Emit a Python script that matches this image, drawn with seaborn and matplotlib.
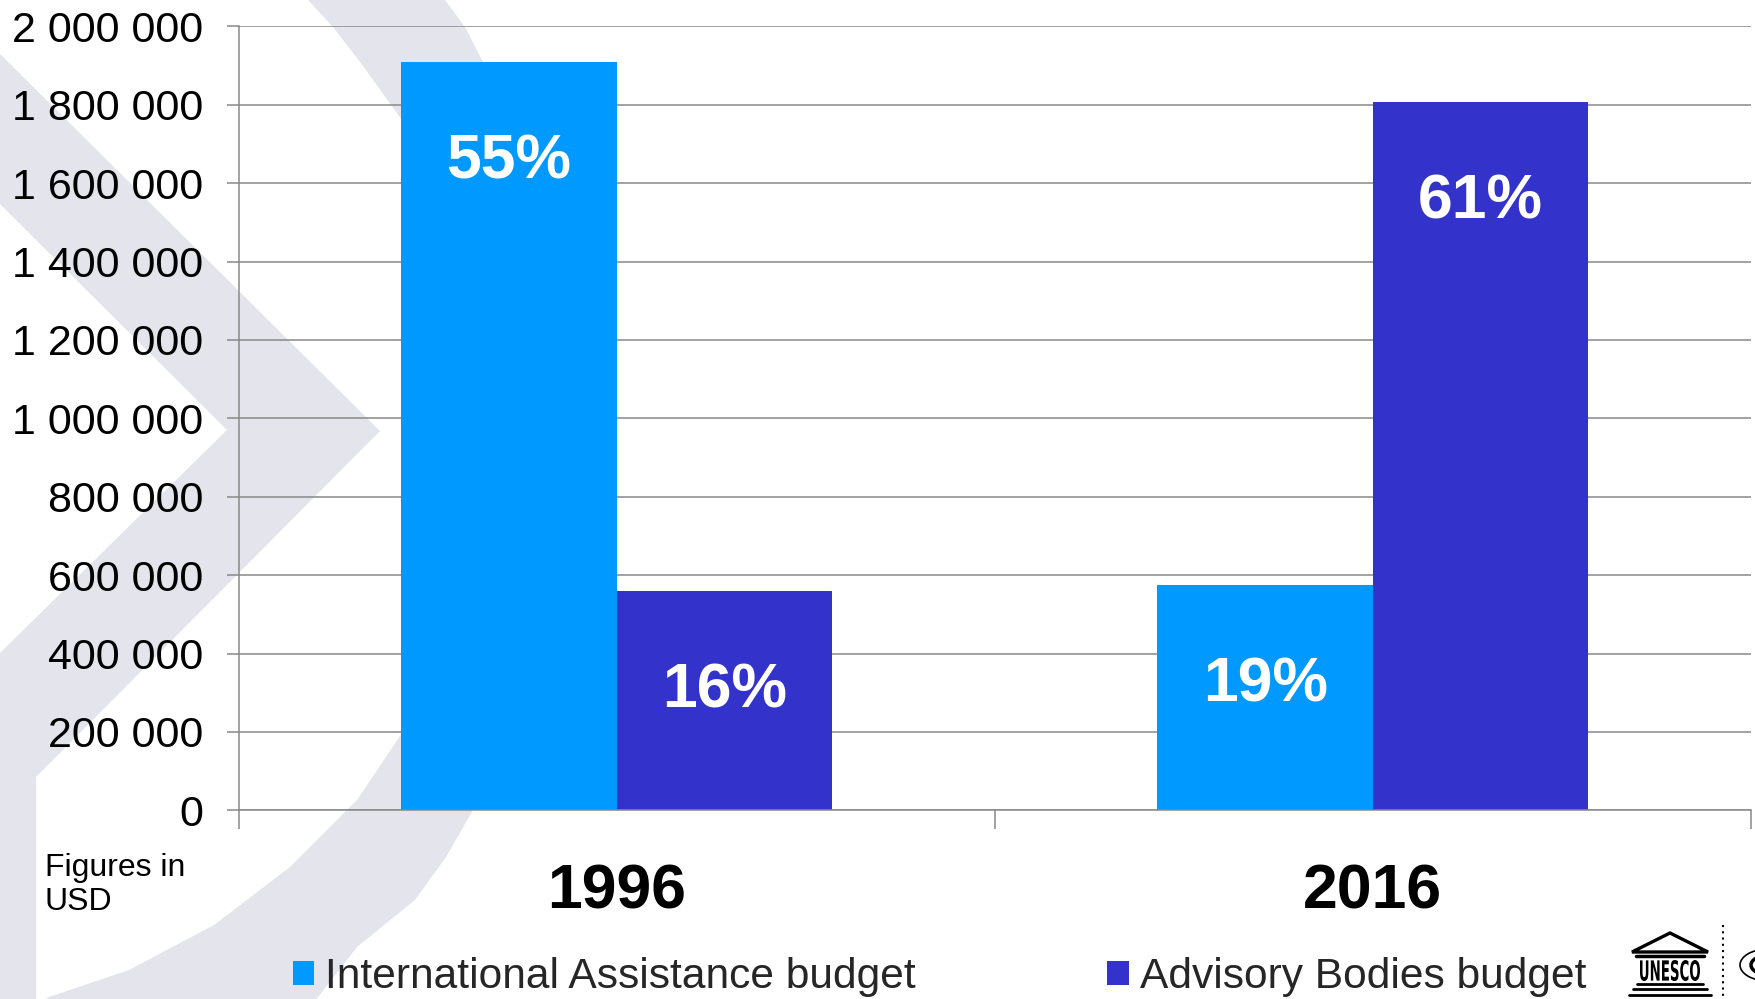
import numpy as np
import pandas as pd
import matplotlib
matplotlib.use("Agg")
import matplotlib.pyplot as plt
from matplotlib.patches import Polygon, Patch, Circle, PathPatch
from matplotlib.lines import Line2D
from matplotlib.textpath import TextPath
from matplotlib.font_manager import FontProperties
from matplotlib.transforms import Affine2D, IdentityTransform
import seaborn as sns

# ---- data ----
years = ["1996", "2016"]
series = ["International Assistance budget", "Advisory Bodies budget"]
ia_budget = [1908000, 574000]
ab_budget = [559000, 1806000]
ia_share = ["55%", "19%"]
ab_share = ["16%", "61%"]
colors = ["#0099FF", "#3333CC"]
y_ticks = list(range(0, 2000001, 200000))

sns.set_theme(style="white")
plt.rcParams["font.family"] = ["Liberation Sans", "DejaVu Sans"]

W, H = 1756, 999
fig = plt.figure(figsize=(W / 100, H / 100), dpi=100)
fig.patch.set_facecolor("white")


def fx(x):
    return x / W


def fy(y):
    return 1 - y / H


def poly(pts, **kw):
    p = Polygon([(fx(x), fy(y)) for x, y in pts], closed=True,
                transform=fig.transFigure, **kw)
    fig.add_artist(p)
    return p


# ---- decorative slide background ----
bg = "#E4E4EC"
poly([(-5, 50), (0, 54), (380, 431), (36, 777), (36, 1005), (-5, 1005),
      (-5, 653), (0, 653), (227, 430), (0, 204), (-5, 204)],
     facecolor=bg, edgecolor="none", zorder=-5)
left_edge = [(306, -5), (308, 0), (333, 27), (360, 62), (402, 120), (440, 250),
             (455, 430), (440, 600), (402, 733), (357, 800), (290, 867),
             (214, 925), (129, 970), (49, 997), (35, 1005)]
right_edge = [(312, 1005), (357, 947), (415, 900), (446, 857), (473, 810),
              (530, 650), (545, 430), (530, 250), (483, 62), (465, 27),
              (445, 0), (443, -5)]
poly(left_edge + right_edge, facecolor=bg, edgecolor="none", zorder=-5)

# ---- axes ----
ax = fig.add_axes([fx(238.6), fy(810.3), (1751 - 238.6) / W, (810.3 - 26.3) / H])
ax.set_facecolor("none")

df = pd.DataFrame({
    "year": years + years,
    "budget": ia_budget + ab_budget,
    "series": [series[0]] * len(years) + [series[1]] * len(years),
})
sns.barplot(data=df, x="year", y="budget", hue="series", hue_order=series,
            palette=colors, saturation=1, width=0.57, errorbar=None,
            edgecolor="none", linewidth=0, legend=False, ax=ax, zorder=3)

ax.set_xlim(-0.5, 1.5)
ax.set_ylim(0, 2000000)
ax.set_xlabel("")
ax.set_ylabel("")

gcol = "#898989"
ax.set_yticks(y_ticks)
ax.set_yticklabels([f"{v:,}".replace(",", " ") for v in y_ticks])
ax.yaxis.grid(True, color=gcol, linewidth=1.1)
ax.xaxis.grid(False)
ax.set_axisbelow(True)
for s in ["top", "right"]:
    ax.spines[s].set_visible(False)
for s in ["left", "bottom"]:
    ax.spines[s].set_visible(True)
    ax.spines[s].set_color(gcol)
    ax.spines[s].set_linewidth(1.1)
    ax.spines[s].set_zorder(4)

ax.tick_params(axis="y", which="major", left=True, length=8.4, width=1.1,
               color=gcol, pad=17, labelsize=31, labelcolor="black",
               direction="out")
ax.set_xticks([-0.5, 0.5, 1.5], minor=True)
ax.tick_params(axis="x", which="minor", bottom=True, length=13.7, width=1.1,
               color=gcol, direction="out")
ax.tick_params(axis="x", which="major", bottom=True, length=0, pad=37.5,
               labelsize=45, labelcolor="black")
for lbl in ax.get_xticklabels():
    lbl.set_fontweight("bold")

# percentage labels inside the bars
for container, shares in zip(ax.containers, [ia_share, ab_share]):
    for bar, s in zip(container, shares):
        ax.annotate(s, (bar.get_x() + bar.get_width() / 2, bar.get_height()),
                    xytext=(0, -72), textcoords="offset points",
                    ha="center", va="center", color="white",
                    fontsize=45, fontweight="bold", zorder=5)

# note
fig.text(fx(45), fy(853), "Figures in\nUSD", fontsize=23, ha="left", va="top",
         linespacing=1.17, color="black")

# legend
handles = [Patch(facecolor=c, edgecolor="none") for c in colors]
fig.legend(handles, series, loc="center left",
           bbox_to_anchor=(fx(293), fy(977)), ncol=2, frameon=False,
           fontsize=30.6, handlelength=0.5, handleheight=0.5,
           handletextpad=0.26, columnspacing=4.5, borderpad=0,
           borderaxespad=0)

# ---- logo approximation (UNESCO temple + emblem) ----
def line(x0, y0, x1, y1, **kw):
    fig.add_artist(Line2D([fx(x0), fx(x1)], [fy(y0), fy(y1)],
                          transform=fig.transFigure, **kw))

poly([(1670, 933), (1708, 952), (1632, 952)], facecolor="none",
     edgecolor="black", linewidth=2.4)
line(1636, 956, 1704, 956, color="black", linewidth=2.5)
# tall condensed lettering between the columns
tp = TextPath((0, 0), "UNESCO", size=10,
              prop=FontProperties(family="Liberation Sans Narrow", weight="bold"))
ext = tp.get_extents()
bx0, bx1, by_top, by_bot = 1640, 1700, 960, 981
sx = (bx1 - bx0) / ext.width
sy = (by_bot - by_top) / ext.height
tr = Affine2D().translate(-ext.x0, -ext.y0).scale(sx, sy).translate(bx0, H - by_bot)
fig.add_artist(PathPatch(tr.transform_path(tp), transform=IdentityTransform(),
                         facecolor="black", edgecolor="none"))
line(1637, 984, 1703, 984, color="black", linewidth=2)
line(1633, 989, 1707, 989, color="black", linewidth=2)
line(1629, 995, 1711, 995, color="black", linewidth=2)
line(1723, 925, 1723, 999, color="black", linewidth=1.5, linestyle=(0, (1, 2)))
fig.add_artist(Circle((fx(1768), fy(965)), 28 / W, transform=fig.transFigure,
                      facecolor="none", edgecolor="black", linewidth=1.2))
fig.add_artist(Circle((fx(1768), fy(965)), 17 / W, transform=fig.transFigure,
                      facecolor="none", edgecolor="black", linewidth=2.5))

fig.savefig("out.png", dpi=100, facecolor="white")
